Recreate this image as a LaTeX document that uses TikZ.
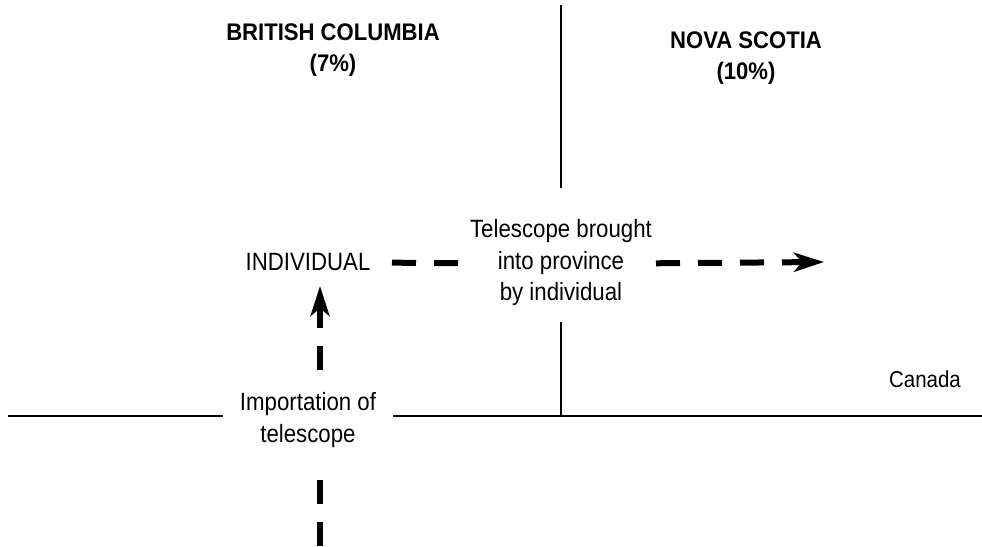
\documentclass[tikz,border=0pt]{standalone}
\usepackage{fontspec}
\setmainfont{Liberation Sans}
\newfontfamily\narrowfont[FakeStretch=0.89]{Liberation Sans}
\newfontfamily\headfont[FakeStretch=0.92]{Liberation Sans}
\usetikzlibrary{arrows.meta}
\begin{document}
\begin{tikzpicture}[x=1pt,y=-1pt,
  border/.style={line width=2.5pt},
  flow/.style={line width=6pt, dash pattern=on 24pt off 18pt},
  flowtip/.style={-{Stealth[length=30pt,width=19pt,inset=8pt]}},
  region/.style={font=\headfont\bfseries\fontsize{24}{31}\selectfont, align=center, inner sep=0pt},
  txt/.style={font=\narrowfont\fontsize{25}{31.5}\selectfont, align=center, inner sep=0pt}]
\useasboundingbox (0,0) rectangle (982,546);

% province headings
\node[region] (bc) at (333,50) {BRITISH COLUMBIA\\(7\%)};
\node[region] (ns) at (746,58) {NOVA SCOTIA\\(10\%)};

% labels
\node[txt] (ind) at (308,262) {INDIVIDUAL};
\node[txt] (tel) at (561,263) {Telescope brought\\into province\\by individual};
\node[txt] (imp) at (308,420) {Importation of\\telescope};
\node[txt, font=\narrowfont\fontsize{23}{30}\selectfont] (can) at (925,379) {Canada};

% borders
\draw[border] (561,5) -- (561,188);
\draw[border] (561,322) -- (561,416);
\draw[border] (8,416) -- (223,416);
\draw[border] (393,416) -- (982,416);

% flows
\coordinate (eastend) at (824,262);
\coordinate (southend) at (320,546);
\draw[flow, shorten <=84pt, shorten >=103pt] (ind.center) -- ([yshift=-1pt]tel.center);
\draw[flow, flowtip, shorten <=95pt] ([yshift=-1pt]tel.center) -- (eastend);
\draw[flow, flowtip, shorten <=50pt, shorten >=24pt] ([xshift=12pt]imp.center) -- ([xshift=12pt]ind.center);
\draw[flow, shorten >=59pt] (southend) -- ([xshift=12pt]imp.center);
\end{tikzpicture}
\end{document}
